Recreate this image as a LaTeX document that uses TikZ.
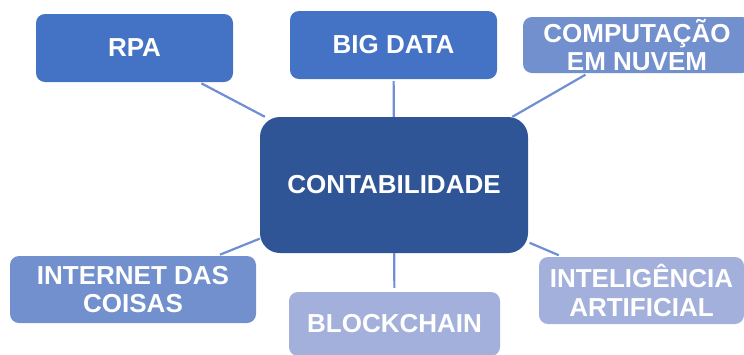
\documentclass[tikz,border=0pt]{standalone}
\usepackage{fontspec}
\setmainfont{Liberation Sans}
\definecolor{hubblue}{RGB}{47,85,151}
\definecolor{midblue}{RGB}{68,114,196}
\definecolor{softblue}{RGB}{114,143,206}
\definecolor{paleblue}{RGB}{162,176,219}
\definecolor{linkblue}{RGB}{111,142,212}
\begin{document}
\begin{tikzpicture}[x=1pt,y=-1pt,
  topic/.style={rectangle, rounded corners=9pt, inner sep=0pt, align=center,
    text=white, font=\fontsize{26}{28.5}\selectfont\bfseries},
  hub/.style={topic, rounded corners=20pt, fill=hubblue},
  link/.style={draw=linkblue, line width=2.2pt}
]
\useasboundingbox (0,0) rectangle (744,354);

% central node
\node[hub, minimum width=268pt, minimum height=136pt] (c) at (394,185) {CONTABILIDADE};

% surrounding topics
\node[topic, fill=midblue, minimum width=197pt, minimum height=68pt] (rpa) at (134.5,48) {RPA};
\node[topic, fill=midblue, minimum width=207pt, minimum height=68pt] (big) at (393.5,45) {BIG DATA};
\node[topic, fill=softblue, minimum width=228pt, minimum height=56pt] (cloud) at (637,45) {COMPUTAÇÃO\\EM NUVEM};
\node[topic, fill=softblue, minimum width=246pt, minimum height=67pt] (iot) at (133,289.5) {INTERNET DAS\\COISAS};
\node[topic, fill=paleblue, minimum width=211pt, minimum height=64pt] (chain) at (394.5,324) {BLOCKCHAIN};
\node[topic, fill=paleblue, minimum width=205pt, minimum height=67pt] (ai) at (641.5,290.5) {INTELIGÊNCIA\\ARTIFICIAL};

% connectors
\draw[link, shorten >=2.5pt] (c) -- (rpa);
\draw[link, shorten >=2pt] (c) -- (big);
\draw[link, shorten >=3pt] (c) -- (cloud);
\draw[link, shorten >=3pt] (c) -- (iot);
\draw[link, shorten >=4pt] (c) -- (chain);
\draw[link, shorten <=1.5pt, shorten >=4pt] (c) -- (ai);
\end{tikzpicture}
\end{document}
